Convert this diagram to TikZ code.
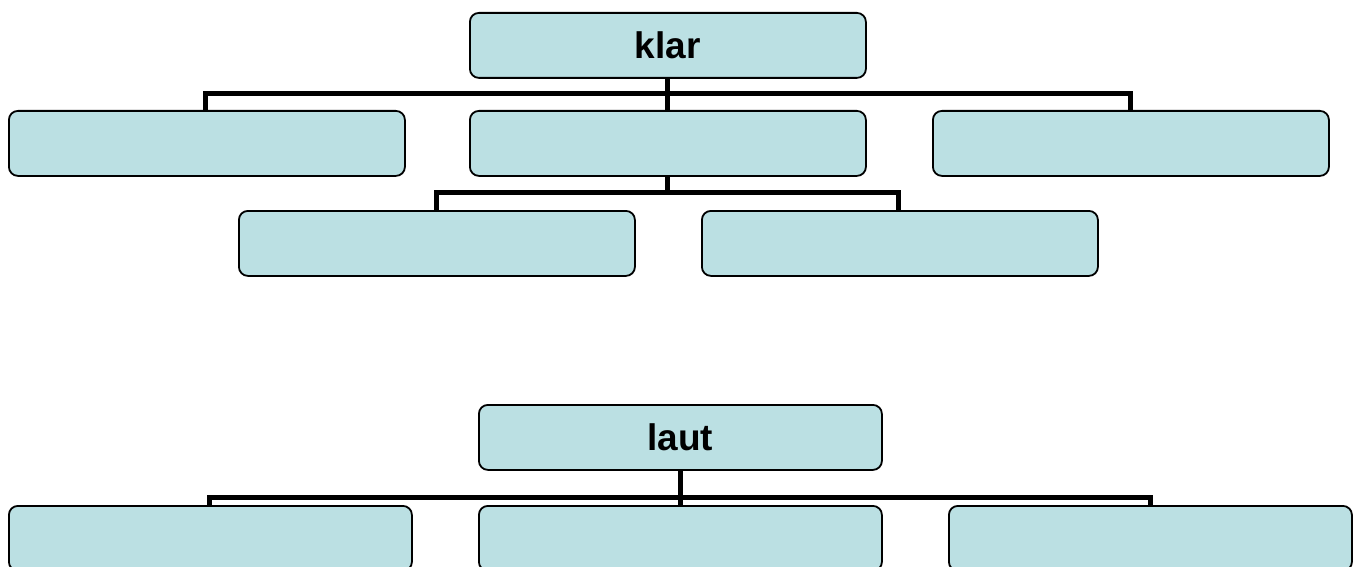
\documentclass[tikz,border=0pt]{standalone}
\usepackage{fontspec}
\setmainfont{Liberation Sans}
\definecolor{boxfill}{RGB}{187,224,227}
\begin{document}
\begin{tikzpicture}[x=1pt,y=-1pt,
  box/.style={draw=black,line width=1.8pt,fill=boxfill,rounded corners=9pt,
    minimum width=396pt,minimum height=65pt,inner sep=0pt,anchor=north west,
    font=\fontsize{37}{40}\selectfont\bfseries},
  conn/.style={draw=black,line width=5pt,line join=miter}]
\clip (0,0) rectangle (1360,567);
\useasboundingbox (0,0) rectangle (1360,567);
% top tree
\node[box] (klar) at (469,12) {klar};
\node[box] (a1) at (8,110) {};
\node[box] (a2) at (469,110) {};
\node[box] (a3) at (932,110) {};
\node[box] (b1) at (238,210) {};
\node[box] (b2) at (701,210) {};
\coordinate (bar1) at (667,94);
\coordinate (bar2) at (667,192);
\coordinate (p1) at (205,0);
\coordinate (p3) at (1130,0);
\coordinate (q1) at (436,0);
\coordinate (q2) at (898,0);
\draw[conn] (klar.south) -- (a2.north);
\draw[conn] (p1 |- a1.north) -- (p1 |- bar1) -- (p3 |- bar1) -- (p3 |- a3.north);
\draw[conn] (a2.south) -- (a2.south |- bar2);
\draw[conn] (q1 |- b1.north) -- (q1 |- bar2) -- (q2 |- bar2) -- (q2 |- b2.north);
% bottom tree
\node[box,minimum width=403pt] (laut) at (478,404) {laut};
\node[box,minimum width=403pt] (c1) at (8,505) {};
\node[box,minimum width=403pt] (c2) at (478,505) {};
\node[box,minimum width=403pt] (c3) at (948,505) {};
\coordinate (bar3) at (679,497);
\coordinate (r1) at (209,0);
\coordinate (r3) at (1150,0);
\draw[conn] (laut.south) -- (c2.north);
\draw[conn] (r1 |- c1.north) -- (r1 |- bar3) -- (r3 |- bar3) -- (r3 |- c3.north);
\end{tikzpicture}
\end{document}
